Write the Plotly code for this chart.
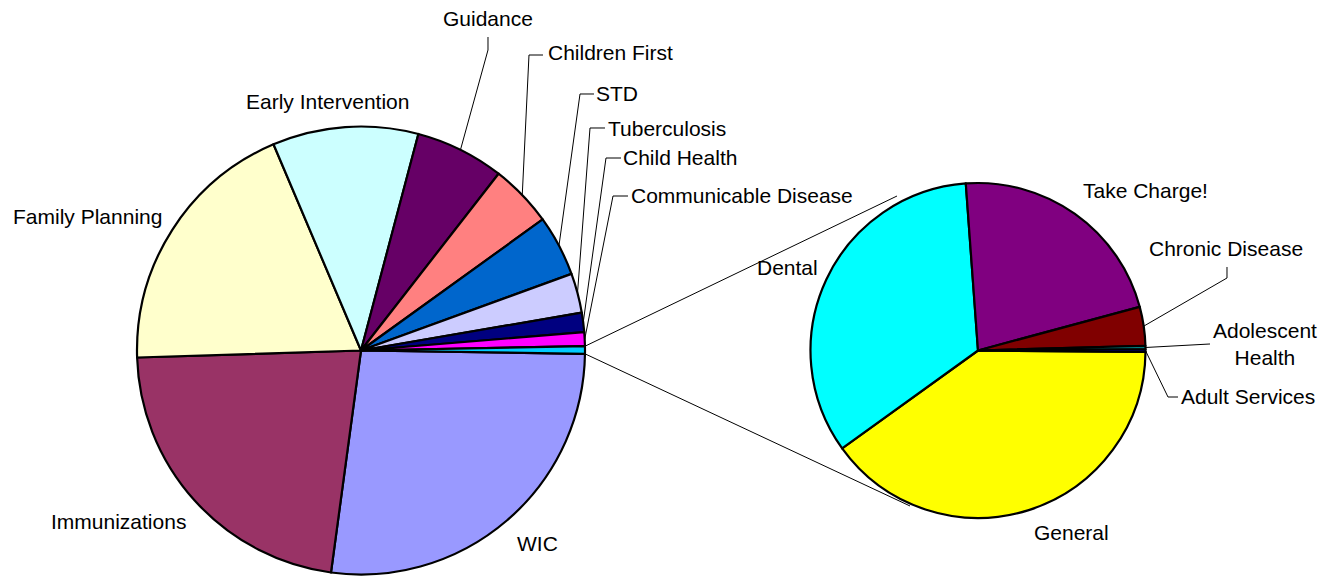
import numpy as np
import plotly.graph_objects as go

# ---------------- data ----------------
main_labels = ["WIC", "Immunizations", "Family Planning", "Early Intervention", "Guidance",
               "Children First", "STD", "Tuberculosis", "Child Health", "Communicable Disease", "Other"]
main_values = [26.90, 22.36, 19.11, 10.51, 6.40, 4.53, 4.39, 2.85, 1.40, 1.00, 0.54]
main_colors = ["#9999FF", "#993366", "#FFFFCC", "#CCFFFF", "#660066", "#FF8080",
               "#0066CC", "#CCCCFF", "#000080", "#FF00FF", "#00CCFF"]

sub_labels = ["General", "Dental", "Take Charge!", "Chronic Disease", "Adolescent Health", "Adult Services"]
sub_values = [39.92, 33.78, 21.97, 3.74, 0.33, 0.26]
sub_colors = ["#FFFF00", "#00FFFF", "#800080", "#800000", "#008080", "#0000FF"]

# ---------------- layout constants (pixels) ----------------
W, H = 1335, 576
FONT = dict(family="Liberation Sans, Arial, sans-serif", size=21, color="black")

MAIN_C, MAIN_R, MAIN_ROT = (361.0, 350.5), 224.0, 90.85
SUB_C, SUB_R, SUB_ROT = (978.0, 350.5), 167.5, 90.5

main_text_pos = {
    "Guidance": (488, 18), "Children First": (610, 53), "STD": (617, 93),
    "Tuberculosis": (667, 128), "Child Health": (680, 157),
    "Communicable Disease": (742, 195), "Early Intervention": (327, 101),
    "Family Planning": (87, 216), "Immunizations": (118, 521), "WIC": (537, 543),
}
main_leaders = {
    "Guidance": [(488, 50), (488, 37)],
    "Children First": [(529, 55), (543, 55)],
    "STD": [(580, 94), (594, 94)],
    "Tuberculosis": [(590, 128), (605, 128)],
    "Child Health": [(606, 158), (621, 158)],
    "Communicable Disease": [(613, 196), (628, 196)],
}
sub_text_pos = {
    "Dental": (787, 267), "Take Charge!": (1145, 190), "Chronic Disease": (1226, 248),
    "Adolescent Health": (1265, 344), "Adult Services": (1248, 396), "General": (1071, 532),
}
sub_leaders = {
    "Chronic Disease": [(1227, 278), (1227, 267)],
    "Adolescent Health": [(1210, 344)],
    "Adult Services": [(1168, 397), (1178, 397)],
}
connector_ends = [(897, 196), (910, 506)]


def px(x):
    return x / W


def py(y):
    return 1 - y / H


def slice_angles(values, rot):
    v = np.asarray(values, float)
    frac = v / v.sum() * 360.0
    start = 90.0 - rot
    cum = np.concatenate([[0], np.cumsum(frac)])
    a0 = start - cum[:-1]
    a1 = start - cum[1:]
    return a0, a1, (a0 + a1) / 2


def on_circle(c, r, ang):
    t = np.radians(ang)
    return (c[0] + r * np.cos(t), c[1] - r * np.sin(t))


def domain(c, r):
    return dict(x=[px(c[0] - r), px(c[0] + r)], y=[py(c[1] + r), py(c[1] - r)])


fig = go.Figure()
fig.add_trace(go.Pie(labels=main_labels, values=main_values, sort=False, direction="clockwise",
                     rotation=MAIN_ROT, domain=domain(MAIN_C, MAIN_R), textinfo="none",
                     marker=dict(colors=main_colors, line=dict(color="black", width=2.2)),
                     showlegend=False, hoverinfo="label+percent"))
fig.add_trace(go.Pie(labels=sub_labels, values=sub_values, sort=False, direction="clockwise",
                     rotation=SUB_ROT, domain=domain(SUB_C, SUB_R), textinfo="none",
                     marker=dict(colors=sub_colors, line=dict(color="black", width=2.2)),
                     showlegend=False, hoverinfo="label+percent"))

shapes = []
annotations = []


def polyline(points):
    d = "M " + " L ".join(f"{px(x):.5f},{py(y):.5f}" for x, y in points)
    return dict(type="path", path=d, xref="paper", yref="paper",
                line=dict(color="black", width=1))


def add_labels(labels, values, rot, c, r, text_pos, leaders):
    _, _, mids = slice_angles(values, rot)
    for lab, mid in zip(labels, mids):
        if lab in leaders:
            p0 = on_circle(c, r, mid)
            shapes.append(polyline([p0] + leaders[lab]))
        if lab in text_pos:
            x, y = text_pos[lab]
            txt = lab.replace("Adolescent Health", "Adolescent<br>Health")
            annotations.append(dict(x=px(x), y=py(y), xref="paper", yref="paper", text=txt,
                                    showarrow=False, xanchor="center", yanchor="middle",
                                    font=FONT, align="center"))


add_labels(main_labels, main_values, MAIN_ROT, MAIN_C, MAIN_R, main_text_pos, main_leaders)
add_labels(sub_labels, sub_values, SUB_ROT, SUB_C, SUB_R, sub_text_pos, sub_leaders)

# connector lines between the "Other" slice and the secondary pie
a0, a1, _ = slice_angles(main_values, MAIN_ROT)
other = main_labels.index("Other")
p_top = on_circle(MAIN_C, MAIN_R, a0[other])
p_bot = on_circle(MAIN_C, MAIN_R, a1[other])
shapes.append(polyline([p_top, connector_ends[0]]))
shapes.append(polyline([p_bot, connector_ends[1]]))

fig.update_layout(width=W, height=H, margin=dict(l=0, r=0, t=0, b=0),
                  paper_bgcolor="white", plot_bgcolor="white",
                  shapes=shapes, annotations=annotations, font=FONT)

fig.write_html("out.html", config={"displayModeBar": False},
               post_script="document.body.style.margin='0';")
